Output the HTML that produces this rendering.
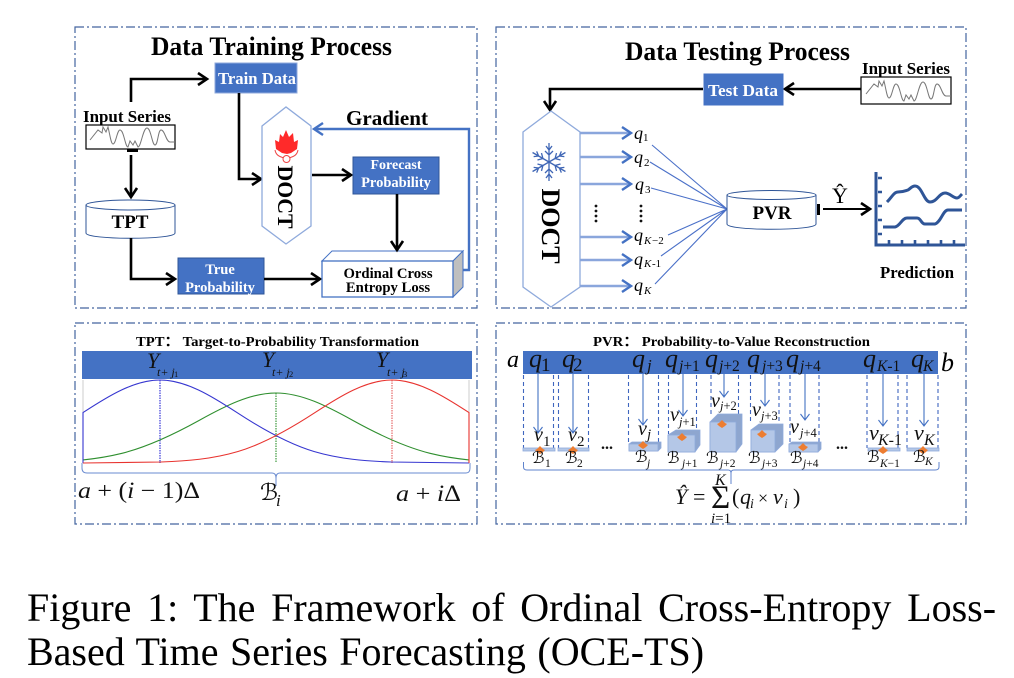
<!DOCTYPE html>
<html><head><meta charset="utf-8"><style>
html,body{margin:0;padding:0;background:#fff;width:1014px;height:678px;overflow:hidden}
svg{display:block;font-family:"Liberation Serif",serif}
.b{font-weight:bold}.i{font-style:italic}.w{fill:#fff;font-weight:bold}
.p{fill:none;stroke:#44659f;stroke-width:1.2;stroke-dasharray:9 3 2 3}
.k{fill:none;stroke:#000;stroke-width:2.6}
.d{fill:none;stroke:#3f66bf;stroke-width:1.1;stroke-dasharray:4 3}
.a{fill:none;stroke:#4472c4;stroke-width:1.1}
.q{fill:none;stroke:#8aa6dc;stroke-width:2.6}
.t{fill:none;stroke:#4a70c8;stroke-width:1.1}
.f{fill:#b4c7e7;stroke:#8faadc;stroke-width:.8}
.s{fill:#8ea6cf;stroke:#8faadc;stroke-width:.8}
.o{fill:#ed7d31}
.c{font-family:"DejaVu Sans",serif;fill:#111}
</style></head><body>
<svg width="1014" height="678" viewBox="0 0 1014 678" xmlns="http://www.w3.org/2000/svg">
<defs>
<marker id="kh" markerUnits="userSpaceOnUse" markerWidth="16" markerHeight="16" refX="11" refY="7" orient="auto"><path d="M2 1L11 7L2 13" fill="none" stroke="#000" stroke-width="2.6"/></marker>
<marker id="bh" markerUnits="userSpaceOnUse" markerWidth="16" markerHeight="16" refX="11" refY="7" orient="auto"><path d="M2 1L11 7L2 13" fill="none" stroke="#4472c4" stroke-width="2.4"/></marker>
</defs>
<rect class="p" x="75" y="27" width="402" height="281"/>
<rect class="p" x="496" y="27" width="470" height="281"/>
<rect class="p" x="75" y="323" width="402" height="201"/>
<rect class="p" x="496" y="323" width="470" height="201"/>

<!-- Training -->
<text class="b" x="151" y="55" font-size="26" textLength="241" lengthAdjust="spacingAndGlyphs">Data Training Process</text>
<rect x="215" y="63" width="82" height="30" fill="#4472c4" stroke="#8faadc"/>
<text class="w" x="218" y="84" font-size="17" textLength="78" lengthAdjust="spacingAndGlyphs">Train Data</text>
<path class="k" d="M131 102V79H207" marker-end="url(#kh)"/>
<text class="b" x="83" y="122" font-size="17" textLength="88" lengthAdjust="spacingAndGlyphs">Input Series</text>
<rect x="86" y="125" width="89" height="24" fill="#fff" stroke="#000" stroke-width="1.2"/>
<path fill="none" stroke="#777" stroke-width="1" d="M90 140L98 130 102 133 103 127 106 132 108 127C110 135 111 144 113 144C116 144 117 130 120 130C124 130 125 147 128 147L130 141 133 145 135 141 138 147C141 147 143 128 147 128C151 128 152 145 155 145C158 145 158 130 161 130C165 130 166 142 170 142H175"/>
<rect x="127" y="149" width="11" height="3"/>
<path class="k" d="M131 155V197" marker-end="url(#kh)"/>
<path d="M86 205V233C86 240 175 240 175 233V205" fill="#fff" stroke="#2f5597" stroke-width="1"/>
<ellipse cx="130.500" cy="205" rx="44.500" ry="5" fill="#fff" stroke="#2f5597"/>
<text class="b" x="130" y="228" font-size="19" text-anchor="middle">TPT</text>
<path class="k" d="M131 238V279H175" marker-end="url(#kh)"/>
<rect x="178" y="258" width="86" height="36" fill="#4472c4" stroke="#2f5597"/>
<text class="w" x="220" y="274" font-size="14.500" text-anchor="middle">True</text>
<text class="w" x="220" y="292" font-size="14.500" text-anchor="middle">Probability</text>
<path class="k" d="M264 279H320" marker-end="url(#kh)"/>
<path d="M322 261L332 251H463L453 261Z" fill="#fff" stroke="#4472c4" stroke-width="1"/>
<path d="M453 261L463 251V287L453 297Z" fill="#bfbfbf" stroke="#4472c4" stroke-width="1"/>
<rect x="322" y="261" width="131" height="36" fill="#fff" stroke="#4472c4" stroke-width="1.300"/>
<text class="b" x="388" y="278" font-size="14.700" text-anchor="middle">Ordinal Cross</text>
<text class="b" x="388" y="292" font-size="14.700" text-anchor="middle">Entropy Loss</text>
<path d="M463 270H469V129H314" fill="none" stroke="#4472c4" stroke-width="2.4" marker-end="url(#bh)"/>
<text class="b" x="346" y="125" font-size="21" textLength="82" lengthAdjust="spacingAndGlyphs">Gradient</text>
<path d="M239 93V179H261" class="k" marker-end="url(#kh)"/>
<path d="M262 126L286 107L311 126V226L286 244L262 226Z" fill="#fff" stroke="#8faadc" stroke-width="1.300"/>
<path d="M286 130L289 137L293 133L294 142L298 140L297 149L291 153L287 154L282 153L276 149L275 140L279 142L280 134L283 137Z" fill="#ff2a2a"/>
<path d="M275 150C276 156 281 157 284 158M298 150C297 156 292 157 289 158" fill="none" stroke="#e44" stroke-width="1"/>
<circle cx="286.500" cy="159" r="3.500" fill="#fff" stroke="#e44" stroke-width="1"/>
<text class="b" font-size="22" text-anchor="middle" transform="translate(278,197) rotate(90)" textLength="63" lengthAdjust="spacingAndGlyphs">DOCT</text>
<path class="k" d="M312 175H351" marker-end="url(#kh)"/>
<rect x="353" y="157" width="86" height="37" fill="#4472c4" stroke="#2f5597"/>
<text class="w" x="396" y="169" font-size="14" text-anchor="middle">Forecast</text>
<text class="w" x="396" y="187" font-size="14.500" text-anchor="middle">Probability</text>
<path class="k" d="M397 194V250" marker-end="url(#kh)"/>

<!-- Testing -->
<text class="b" x="625" y="60" font-size="26" textLength="225" lengthAdjust="spacingAndGlyphs">Data Testing Process</text>
<text class="b" x="862" y="74" font-size="17" textLength="88" lengthAdjust="spacingAndGlyphs">Input Series</text>
<rect x="861" y="77" width="90" height="27" fill="#fff" stroke="#000" stroke-width="1.2"/>
<path fill="none" stroke="#777" stroke-width="1" transform="translate(776,-46)" d="M90 140L98 130 102 133 103 127 106 132 108 127C110 135 111 144 113 144C116 144 117 130 120 130C124 130 125 147 128 147L130 141 133 145 135 141 138 147C141 147 143 128 147 128C151 128 152 145 155 145C158 145 158 130 161 130C165 130 166 142 170 142H175"/>
<path class="k" d="M861 89H785" marker-end="url(#kh)"/>
<rect x="704" y="74" width="79" height="31" fill="#4472c4" stroke="#4472c4"/>
<text class="w" x="708" y="96" font-size="17" textLength="70" lengthAdjust="spacingAndGlyphs">Test Data</text>
<path class="k" d="M703 89H550V110" marker-end="url(#kh)"/>
<path d="M523 132L551 111L580 132V287L551 307L523 287Z" fill="#fff" stroke="#8faadc" stroke-width="1.300"/>
<g stroke="#3f66b5" stroke-width="1.300" fill="none" transform="translate(549,162)">
<path d="M0 0V-19M-3 -16L0 -12L3 -16M-4 -11L0 -7L4 -11"/>
<path transform="rotate(60)" d="M0 0V-19M-3 -16L0 -12L3 -16M-4 -11L0 -7L4 -11"/>
<path transform="rotate(120)" d="M0 0V-19M-3 -16L0 -12L3 -16M-4 -11L0 -7L4 -11"/>
<path transform="rotate(180)" d="M0 0V-19M-3 -16L0 -12L3 -16M-4 -11L0 -7L4 -11"/>
<path transform="rotate(240)" d="M0 0V-19M-3 -16L0 -12L3 -16M-4 -11L0 -7L4 -11"/>
<path transform="rotate(300)" d="M0 0V-19M-3 -16L0 -12L3 -16M-4 -11L0 -7L4 -11"/>
</g>
<text class="b" font-size="26" text-anchor="middle" transform="translate(542,226) rotate(90)">DOCT</text>
<path class="q" d="M580 133H631" marker-end="url(#bh)"/><path class="q" d="M580 157H631" marker-end="url(#bh)"/><path class="q" d="M580 184H631" marker-end="url(#bh)"/><path class="q" d="M580 237H631" marker-end="url(#bh)"/><path class="q" d="M580 260H631" marker-end="url(#bh)"/><path class="q" d="M580 286H631" marker-end="url(#bh)"/>
<g class="i" font-size="18">
<text x="634" y="139">q</text><text x="634" y="163">q</text><text x="635" y="190">q</text><text x="634" y="241">q</text><text x="634" y="265">q</text><text x="634" y="291">q</text>
</g>
<g font-size="11">
<text x="643" y="141">1</text><text x="644" y="166">2</text><text x="645" y="193">3</text>
<text class="i" x="644" y="244">K</text><text x="652" y="244">−2</text>
<text class="i" x="644" y="267">K</text><text x="652" y="267">-1</text>
<text class="i" x="644" y="294">K</text>
</g>
<g fill="#111"><circle cx="596" cy="206" r="1.400"/><circle cx="596" cy="211" r="1.400"/><circle cx="596" cy="216" r="1.400"/><circle cx="596" cy="221" r="1.400"/><circle cx="641" cy="206" r="1.400"/><circle cx="641" cy="211" r="1.400"/><circle cx="641" cy="216" r="1.400"/><circle cx="641" cy="221" r="1.400"/></g>
<path class="t" d="M652 145L727 209M650 162L727 209M651 188L727 209M668 235L727 209M661 256L727 209M655 284L727 209"/>
<path d="M727 195V224C727 231 816 231 816 224V195" fill="#fff" stroke="#2f5597" stroke-width="1"/>
<ellipse cx="771.500" cy="195" rx="44.500" ry="4.500" fill="#fff" stroke="#2f5597"/>
<text class="b" x="772" y="219" font-size="19" text-anchor="middle">PVR</text>
<rect x="817" y="204" width="3" height="11"/>
<path d="M823 209H870" fill="none" stroke="#000" stroke-width="2" marker-end="url(#kh)"/>
<text x="840" y="203" font-size="22" text-anchor="middle">Ŷ</text>
<path d="M876 172V245H965" fill="none" stroke="#2f5597" stroke-width="3"/>
<path d="M878 178H882M878 192H882M878 206H882M878 220H882M878 234H882M889 244V240M902 244V240M915 244V240M928 244V240M941 244V240M954 244V240" stroke="#2f5597" stroke-width="2.600" fill="none"/>
<path d="M887 202C892 197 894 192 898 192C903 192 905 191 908 190C911 188 912 186 915 186C922 186 924 202 930 202C937 202 939 193 945 193C950 193 953 198 957 198C959 198 960 196 962 194" fill="none" stroke="#2f5597" stroke-width="3"/>
<path d="M883 227H895C900 226 902 218 907 218H917C921 218 921 224 925 224H935C941 222 943 210 948 210H962" fill="none" stroke="#2f5597" stroke-width="3"/>
<text class="b" x="880" y="278" font-size="16.500" textLength="74" lengthAdjust="spacingAndGlyphs">Prediction</text>

<!-- TPT -->
<text class="b" x="136" y="346" font-size="13.500" textLength="283" lengthAdjust="spacingAndGlyphs">TPT： Target-to-Probability Transformation</text>
<rect x="82" y="351" width="390" height="28" fill="#4472c4"/>
<path d="M83 380V413M469 380V413" stroke="#ccc" stroke-width="1"/>
<path d="M160 380V463" stroke="#3a3ad8" stroke-width="1.200" stroke-dasharray="1.500 1"/>
<path d="M276 393V463" stroke="#3d9a3d" stroke-width="1.200" stroke-dasharray="1.500 1"/>
<path d="M392 380V463" stroke="#e76a6a" stroke-width="1.200" stroke-dasharray="1.500 1"/>
<path fill="none" stroke="#2f8f2f" stroke-width="1.100" d="M83 459.900C96 458.600 109 456.500 122 453.300C147.700 446.900 173.300 434.700 199 420.500C224.700 406.300 250.300 393 276 393C301.700 393 327.300 406.300 353 420.500C378.700 434.700 404.300 446.900 430 453.300C443 456.500 456 458.600 469 459.900"/>
<path fill="none" stroke="#3636d0" stroke-width="1.100" d="M83 463V412.600C108.700 395.800 134.300 380 160 380C185.700 380 211.300 395.800 237 412.600C262.700 429.400 288.300 443.900 314 451.500C339.700 459.100 365.300 461.100 391 462L469 463"/>
<path fill="none" stroke="#e8332f" stroke-width="1.100" transform="translate(552,0) scale(-1,1)" d="M83 463V412.600C108.700 395.800 134.300 380 160 380C185.700 380 211.300 395.800 237 412.600C262.700 429.400 288.300 443.900 314 451.500C339.700 459.100 365.300 461.100 391 462L469 463"/>
<path d="M82 463V468Q82 473 87 473H272Q276 473 276 478V486V478Q276 473 280 473H466Q470 473 470 468V463" fill="none" stroke="#6a8bd0" stroke-width="1"/>
<g font-size="22" class="i" fill="#111"><text x="147" y="368">Y</text><text x="262" y="367">Y</text><text x="376" y="367">Y</text></g>
<g font-size="12" class="i" fill="#111"><text x="157" y="376">t+ j</text><text x="272" y="376">t+ j</text><text x="387" y="376">t+ j</text></g>
<g font-size="8.500" fill="#111"><text x="174" y="377">1</text><text x="289" y="377">2</text><text x="403" y="377">3</text></g>
<text x="78" y="498" font-size="23" fill="#111" textLength="122" lengthAdjust="spacingAndGlyphs"><tspan class="i">a</tspan> + (<tspan class="i">i</tspan> − 1)Δ</text>
<text class="c i" x="260" y="500" font-size="23">ℬ</text><text class="i" x="276" y="506" font-size="17" fill="#111">i</text>
<text x="396" y="501" font-size="23" fill="#111" textLength="65" lengthAdjust="spacingAndGlyphs"><tspan class="i">a</tspan> + <tspan class="i">i</tspan>Δ</text>

<!-- PVR -->
<text class="b" x="593" y="346" font-size="13.500" textLength="277" lengthAdjust="spacingAndGlyphs">PVR： Probability-to-Value Reconstruction</text>
<rect x="523" y="351" width="415" height="23" fill="#4472c4"/>
<text class="i" x="507" y="367" font-size="24">a</text><text class="i" x="941" y="371" font-size="26">b</text>
<g class="i" font-size="26" fill="#111">
<text x="529" y="367">q</text><text x="562" y="367">q</text><text x="632" y="367">q</text><text x="665" y="367">q</text><text x="705" y="367">q</text><text x="747" y="367">q</text><text x="786" y="367">q</text><text x="863" y="367">q</text><text x="911" y="367">q</text>
</g>
<g fill="#111" font-size="15.500">
<text x="541" y="371" font-size="19">1</text><text x="573" y="371" font-size="19">2</text><text class="i" x="647" y="371" font-size="17">j</text><text x="679" y="371"><tspan class="i">j</tspan>+1</text><text x="719" y="371"><tspan class="i">j</tspan>+2</text><text x="762" y="371"><tspan class="i">j</tspan>+3</text><text x="800" y="371"><tspan class="i">j</tspan>+4</text><text x="877" y="371"><tspan class="i">K</tspan>-1</text><text class="i" x="923" y="371">K</text>
</g>
<path class="d" d="M523.500 375V448M553.500 375V448M558.500 375V448M588.500 375V448M628.500 375V442M658.500 375V442M668.500 375V434M696.500 375V434M711 375V414M738.500 375V414M750.500 375V424M779 375V424M790 375V442M819 375V442M867 375V448M898 375V448M907 375V448M938 375V448"/>
<g class="a">
<path d="M538 374V433M533.500 427L538 433L542.500 427"/>
<path d="M573 374V433M568.500 427L573 433L577.500 427"/>
<path d="M643 374V425M638.500 419L643 425L647.500 419"/>
<path d="M683 374V416M678.500 410L683 416L687.500 410"/>
<path d="M724 374V397M719.500 391L724 397L728.500 391"/>
<path d="M765 374V406M760.500 400L765 406L769.500 400"/>
<path d="M805 374V420M800.500 414L805 420L809.500 414"/>
<path d="M883 374V426M878.500 420L883 426L887.500 420"/>
<path d="M924 374V426M919.500 420L924 426L928.500 420"/>
</g>
<!-- blocks -->
<rect class="f" x="523" y="448" width="32" height="3"/>
<rect class="f" x="558" y="448" width="31" height="3"/>
<path class="s" d="M629 444L632 442H661V448L658 451H629Z"/><rect class="f" x="629" y="444" width="29" height="7"/>
<path class="s" d="M668 435L676 430H700V445L695 452H668Z"/><rect class="f" x="668" y="435" width="27" height="17"/>
<path class="s" d="M710 422L718 414H742V444L736 452H710Z"/><rect class="f" x="710" y="422" width="26" height="30"/>
<path class="s" d="M751 430L759 424H783V444L775 452H751Z"/><rect class="f" x="751" y="430" width="24" height="22"/>
<path class="s" d="M789 444L792 442H821V449L818 452H789Z"/><rect class="f" x="789" y="444" width="29" height="8"/>
<rect class="f" x="868" y="448" width="32" height="3"/>
<rect class="f" x="907" y="448" width="32" height="3"/>
<g class="o">
<path d="M537 449l3-3 3 3 2 1-2 2-3 2-3-2-2-2z"/>
<path d="M570 449l3-3 3 3 2 1-2 2-3 2-3-2-2-2z"/>
<path d="M640 444l3-3 3 3 2 1-2 2-3 2-3-2-2-2z"/>
<path d="M679 436l3-3 3 3 2 1-2 2-3 2-3-2-2-2z"/>
<path d="M719 423l3-3 3 3 2 1-2 2-3 2-3-2-2-2z"/>
<path d="M759 433l3-3 3 3 2 1-2 2-3 2-3-2-2-2z"/>
<path d="M800 446l3-3 3 3 2 1-2 2-3 2-3-2-2-2z"/>
<path d="M880 449l3-3 3 3 2 1-2 2-3 2-3-2-2-2z"/>
<path d="M920 449l3-3 3 3 2 1-2 2-3 2-3-2-2-2z"/>
</g>
<!-- v labels -->
<g class="i" font-size="20" fill="#111">
<text x="534" y="441">v</text><text x="568" y="441">v</text><text x="638" y="435">v</text><text x="670" y="421">v</text><text x="711" y="407">v</text><text x="752" y="416">v</text><text x="790" y="433">v</text><text x="869" y="440" font-size="22">v</text><text x="914" y="440" font-size="22">v</text>
</g>
<g font-size="12.500" fill="#111">
<text x="543" y="446" font-size="15">1</text><text x="577" y="446" font-size="15">2</text><text class="i" x="647" y="439" font-size="15">j</text><text x="679" y="426"><tspan class="i">j</tspan>+1</text><text x="720" y="410"><tspan class="i">j</tspan>+2</text><text x="761" y="420"><tspan class="i">j</tspan>+3</text><text x="800" y="437"><tspan class="i">j</tspan>+4</text><text x="878" y="445" font-size="16"><tspan class="i">K</tspan>-1</text><text class="i" x="924" y="445" font-size="16">K</text>
</g>
<!-- B labels -->
<g class="c i" font-size="16">
<text x="532" y="463">ℬ</text><text x="565" y="463">ℬ</text><text x="635" y="462">ℬ</text><text x="667" y="463">ℬ</text><text x="706" y="463">ℬ</text><text x="748" y="463">ℬ</text><text x="790" y="463">ℬ</text><text x="867" y="462">ℬ</text><text x="913" y="462">ℬ</text>
</g>
<g font-size="11.500" fill="#111">
<text x="545" y="467">1</text><text x="577" y="467">2</text><text class="i" x="647" y="467">j</text><text x="682" y="467"><tspan class="i">j</tspan>+1</text><text x="720" y="467"><tspan class="i">j</tspan>+2</text><text x="762" y="467"><tspan class="i">j</tspan>+3</text><text x="803" y="467"><tspan class="i">j</tspan>+4</text><text x="880" y="467"><tspan class="i">K</tspan>−1</text><text class="i" x="925" y="465">K</text>
</g>
<g font-size="16" class="b" fill="#111"><text x="601" y="449">...</text><text x="836" y="449">...</text></g>
<path d="M523.500 462V467Q523.500 470 527 470H728Q731 470 731 473V484V473Q731 470 734 470H935Q939 470 939 467V462" fill="none" stroke="#5f83cc" stroke-width="1"/>
<text class="i" x="675" y="504" font-size="22" fill="#111">Ŷ</text>
<text x="693" y="504" font-size="22" fill="#111">=</text>
<text x="711" y="508" font-size="33" fill="#111">Σ</text>
<text class="i" x="715" y="485" font-size="16" fill="#111">K</text>
<text x="711" y="523" font-size="15" fill="#111"><tspan class="i">i</tspan>=1</text>
<text x="732" y="504" font-size="22" fill="#111">(</text>
<text class="i" x="740" y="504" font-size="22" fill="#111">q</text>
<text class="i" x="750" y="508" font-size="14" fill="#111">i</text>
<text x="758" y="504" font-size="18" fill="#111">×</text>
<text class="i" x="773" y="504" font-size="22" fill="#111">v</text>
<text class="i" x="784" y="508" font-size="14" fill="#111">i</text>
<text x="793" y="504" font-size="22" fill="#111">)</text>

<!-- Caption -->
<text x="27" y="621" font-size="40" fill="#000" style="word-spacing:5.7px">Figure 1: The Framework of Ordinal Cross-Entropy Loss-</text>
<text x="27" y="665" font-size="40" fill="#000" style="word-spacing:1.5px">Based Time Series Forecasting (OCE-TS)</text>
</svg>
</body></html>
